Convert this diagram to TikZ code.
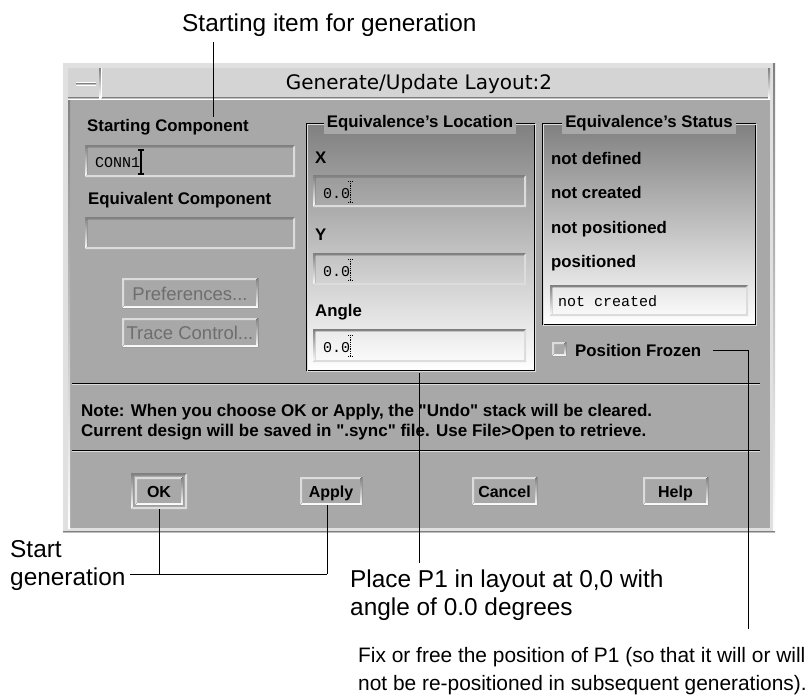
\documentclass[tikz,border=0pt]{standalone}
\usepackage{fontspec}
\setmainfont{Liberation Sans}
\newfontfamily\titlefam{DejaVu Sans}
\newfontfamily\monofam{Liberation Mono}

\definecolor{bodygray}{HTML}{A8A8A8}
\definecolor{bargray}{HTML}{D4D4D4}
\definecolor{frameg}{HTML}{E0E0E0}
\definecolor{hilite}{HTML}{DCDCDC}
\definecolor{shade}{HTML}{6C6C6C}
\definecolor{greyed}{HTML}{6E6E6E}

% bevelled rectangle: x1 y1 x2 y2 top-left colour, bottom-right colour, width
\newcommand\bevelrect[7]{%
  \fill[#5] (#1,#2) -- (#3,#2) -- ({#3-#7},{#2+#7}) -- ({#1+#7},{#2+#7})
            -- ({#1+#7},{#4-#7}) -- (#1,#4) -- cycle;
  \fill[#6] (#3,#4) -- (#1,#4) -- ({#1+#7},{#4-#7}) -- ({#3-#7},{#4-#7})
            -- ({#3-#7},{#2+#7}) -- (#3,#2) -- cycle;}
\newcommand\fieldbox[4]{\bevelrect{#1}{#2}{#3}{#4}{shade}{hilite}{2}}
\newcommand\buttonbox[4]{\bevelrect{#1}{#2}{#3}{#4}{hilite}{shade}{2}}
% etched line pair for group frames and separators
\newcommand\etchrect[4]{%
  \draw[shade] (#1,#2) rectangle (#3,#4);
  \draw[hilite] ({#1+1},{#2+1}) rectangle ({#3+1},{#4+1});}
\newcommand\etchline[3]{%
  \draw[shade] (#1,#3) -- (#2,#3);
  \draw[hilite] (#1,{#3+1}) -- (#2,{#3+1});}
% dotted text cursor
\newcommand\dotcursor[2]{%
  \draw[black, densely dotted, line width=0.8] (#1,{#2}) -- (#1,{#2+21});
  \draw[black, densely dotted, line width=0.8] ({#1-2},{#2}) -- ({#1+2},{#2});
  \draw[black, densely dotted, line width=0.8] ({#1-2},{#2+21}) -- ({#1+2},{#2+21});}
% straight double quote glyph, bypassing the TeX quote mapping
\newcommand\qt{\XeTeXglyph\XeTeXcharglyph"22\relax}

\tikzset{
  lbl/.style={font=\bfseries\fontsize{16.8}{19}\selectfont, anchor=base west, inner sep=0},
  grptitle/.style={font=\bfseries\fontsize{16.8}{19}\selectfont, fill=bodygray, inner sep=3pt},
  fieldtxt/.style={font=\monofam\fontsize{15}{18}\selectfont, anchor=base west, inner sep=0},
  btntxt/.style={font=\bfseries\fontsize{16}{18}\selectfont, anchor=base, inner sep=0},
  offtxt/.style={font=\fontsize{18.5}{20}\selectfont, text=greyed, anchor=base, inner sep=0},
  notetxt/.style={font=\bfseries\fontsize{17}{19}\selectfont, anchor=base west, inner sep=0},
  callout/.style={font=\fontsize{24.4}{28}\selectfont, anchor=base west, inner sep=0, align=left},
  smallcallout/.style={font=\fontsize{20.9}{28}\selectfont, anchor=base west, inner sep=0, align=left},
  lead/.style={draw=black, line width=1pt}
}

\begin{document}
\begin{tikzpicture}[x=1pt, y=-1pt]
\useasboundingbox (0,0) rectangle (808,697);
\fill[white] (0,0) rectangle (808,697);

% window frame
\fill[frameg] (63,63) rectangle (775,533);
\fill[shade] (773,63) rectangle (775,533);
\fill[shade] (63,531) rectangle (775,533);
% dialog body
\fill[bodygray] (68,98) rectangle (770,528);
\fill[shade] (68,98) rectangle (70,528);
% title bar
\fill[bargray] (68,68) rectangle (769,98);
\fill[shade] (68,97) rectangle (769,99);
\fill[shade] (768,68) rectangle (770,99);
% window menu button
\fill[shade] (99,68) rectangle (101,98);
\fill[white] (101,68) rectangle (102,98);
\fill[shade] (76,83) rectangle (96,85);
\fill[white] (76,82) rectangle (96,83);
\node[font=\titlefam\fontsize{20}{24}\selectfont] (title) at (419,84) {Generate/Update Layout:2};

% left column
\node[lbl] (startlbl) at (87,131) {Starting Component};
\fieldbox{85}{145}{295}{177}
\node[fieldtxt] (conn) at (95,167) {CONN1};
\draw[black, line width=1.2] (141,150) -- (141,174) (138,150) -- (144,150) (138,174) -- (144,174);
\node[lbl] (equivlbl) at (88,204) {Equivalent Component};
\fieldbox{85}{217}{295}{249}

\buttonbox{122}{278}{258}{308}
\node[offtxt] (prefs) at (190,300) {Preferences...};
\buttonbox{122}{318}{258}{347}
\node[offtxt] (trace) at (190,339) {Trace Control...};

% location group
\etchrect{306}{123}{534}{370}
\node[grptitle] (loctitle) at (420,123) {Equivalence's Location};
\node[lbl] (xlbl) at (315,163) {X};
\fieldbox{313}{175}{526}{207}
\node[fieldtxt] (xval) at (323,198) {0.0};
\dotcursor{350}{181}
\node[lbl] (ylbl) at (315,240) {Y};
\fieldbox{313}{253}{526}{285}
\node[fieldtxt] (yval) at (323,276) {0.0};
\dotcursor{350}{259}
\node[lbl] (anglelbl) at (315,316) {Angle};
\fieldbox{313}{329}{526}{362}
\node[fieldtxt] (aval) at (323,352) {0.0};
\dotcursor{350}{335}

% status group
\etchrect{542}{123}{755}{324}
\node[grptitle] (stattitle) at (649,123) {Equivalence's Status};
\node[lbl] (s1) at (551,164) {not defined};
\node[lbl] (s2) at (551,198) {not created};
\node[lbl] (s3) at (551,233) {not positioned};
\node[lbl] (s4) at (551,267) {positioned};
\fieldbox{550}{285}{748}{316}
\node[fieldtxt] (statval) at (558,306) {not created};

% frozen toggle
\buttonbox{552}{342}{566}{356}
\node[lbl] (frozen) at (575,356) {Position Frozen};

% separators and note
\etchline{72}{760}{383}
\node[notetxt] (note1) at (81,416) {Note: When you choose OK or Apply, the \qt Undo\qt\ stack will be cleared.};
\node[notetxt] (note2) at (81,436) {Current design will be saved in \qt.sync\qt\ file. Use File>Open to retrieve.};
\etchline{72}{760}{450}

% action buttons
\fieldbox{131}{473}{187}{509}
\buttonbox{135}{477}{183}{505}
\node[btntxt] (ok) at (159,497) {OK};
\buttonbox{300}{477}{362}{505}
\node[btntxt] (apply) at (331,497) {Apply};
\buttonbox{472}{477}{537}{505}
\node[btntxt] (cancel) at (504.5,497) {Cancel};
\buttonbox{643}{477}{708}{505}
\node[btntxt] (help) at (675.5,497) {Help};

% callout texts (base anchor sits on the last line)
\node[callout] (cstart) at (182,31) {Starting item for generation};
\node[callout] (cgen) at (10,585) {Start\\generation};
\node[callout] (cplace) at (350,615) {Place P1 in layout at 0,0 with\\angle of 0.0 degrees};
\node[smallcallout] (cfix) at (358,690) {Fix or free the position of P1 (so that it will or will\\not be re-positioned in subsequent generations).};

% leader lines
\coordinate (l1a) at (213,42);
\coordinate (l1b) at (213,117);
\draw[lead] (l1a) -- (l1b);

\coordinate (okfoot) at (159,509);
\coordinate (applyfoot) at (327,505);
\coordinate (genjoin) at (130,574);
\draw[lead] (okfoot) -- (okfoot |- genjoin);
\draw[lead] (applyfoot) -- (applyfoot |- genjoin);
\draw[lead] (genjoin) -- (applyfoot |- genjoin);

\coordinate (placetop) at (419,373);
\coordinate (placebot) at (419,563);
\draw[lead] (placetop) -- (placebot);

\coordinate (frzend) at (713,350);
\coordinate (frzcorner) at (748,350);
\coordinate (frzbot) at (748,629);
\draw[lead] (frzend) -- (frzcorner) -- (frzbot);
\end{tikzpicture}
\end{document}
